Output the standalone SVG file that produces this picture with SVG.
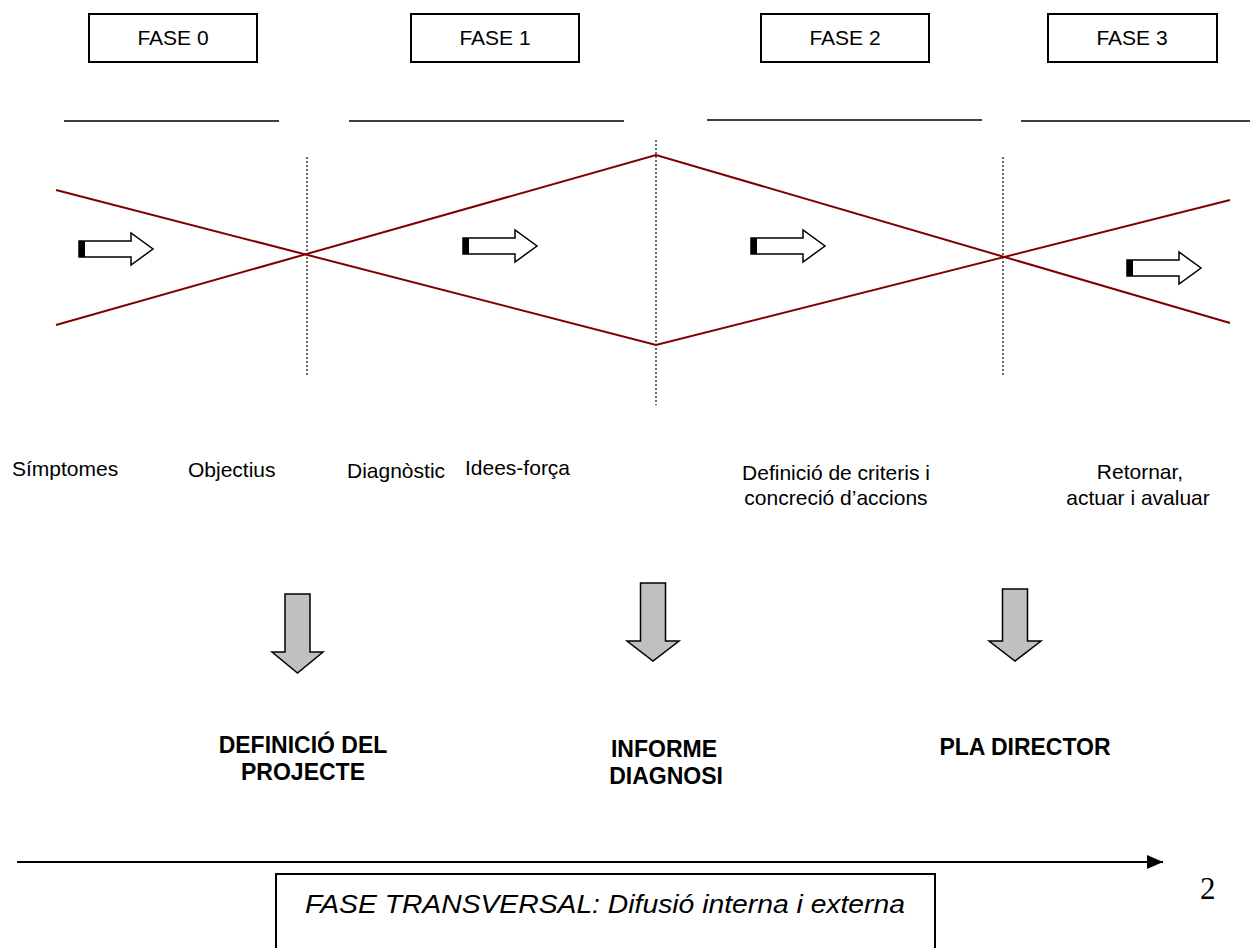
<svg xmlns="http://www.w3.org/2000/svg" width="1250" height="948" viewBox="0 0 1250 948">
  <style>
    .box { fill: #fff; stroke: #000; stroke-width: 2; }
    .t { font-family: "Liberation Sans", Arial, sans-serif; font-size: 21px; fill: #000; }
    .b { font-family: "Liberation Sans", Arial, sans-serif; font-size: 23px; font-weight: bold; fill: #000; }
    .it { font-family: "Liberation Sans", Arial, sans-serif; font-size: 25px; font-style: italic; fill: #000; }
    .rule { stroke: #000; stroke-width: 1.5; }
    .dot { stroke: #000; stroke-width: 1.2; stroke-dasharray: 2 2; }
    .red { stroke: #800000; stroke-width: 2; fill: none; }
    .hollow { fill: #fff; stroke: #000; stroke-width: 1.5; stroke-linejoin: miter; }
    .down { fill: #c0c0c0; stroke: #000; stroke-width: 1.5; }
  </style>
  <defs>
    <g id="hollowArrow">
      <path class="hollow" d="M0,-8 H52 V-16 L74,0 L52,16 V8 H0 Z"/>
      <rect x="0" y="-8" width="6" height="16" fill="#000"/>
    </g>
    <marker id="tip" viewBox="0 0 16 14" refX="16" refY="7" markerWidth="16" markerHeight="14" markerUnits="userSpaceOnUse" orient="auto">
      <path d="M0,0 L16,7 L0,14 Z" fill="#000"/>
    </marker>
  </defs>

  <rect width="1250" height="948" fill="#fff"/>

  <!-- phase headers -->
  <g id="fase0"><rect class="box" x="89" y="14" width="168" height="48"/><text class="t" x="173" y="45" text-anchor="middle">FASE 0</text></g>
  <g id="fase1"><rect class="box" x="411" y="14" width="168" height="48"/><text class="t" x="495" y="45" text-anchor="middle">FASE 1</text></g>
  <g id="fase2"><rect class="box" x="761" y="14" width="168" height="48"/><text class="t" x="845" y="45" text-anchor="middle">FASE 2</text></g>
  <g id="fase3"><rect class="box" x="1048" y="14" width="169" height="48"/><text class="t" x="1132" y="45" text-anchor="middle">FASE 3</text></g>

  <!-- rules under the headers -->
  <g id="rules">
    <line class="rule" x1="64" y1="121" x2="279" y2="121"/>
    <line class="rule" x1="349" y1="121" x2="624" y2="121"/>
    <line class="rule" x1="707" y1="120" x2="982" y2="120"/>
    <line class="rule" x1="1021" y1="121" x2="1250" y2="121"/>
  </g>

  <!-- phase boundaries -->
  <g id="boundaries">
    <line class="dot" x1="307" y1="157" x2="307" y2="375"/>
    <line class="dot" x1="656" y1="140" x2="656" y2="405"/>
    <line class="dot" x1="1003" y1="157" x2="1003" y2="375"/>
  </g>

  <!-- diverge / converge lines -->
  <g id="connectors">
    <polyline class="red" points="56,190 656,345 1230,200"/>
    <polyline class="red" points="56,325 656,155 1230,323"/>
    <line x1="17" y1="862" x2="1163" y2="862" stroke="#000" stroke-width="2" marker-end="url(#tip)"/>
  </g>

  <!-- flow arrows -->
  <g id="flow1"><use href="#hollowArrow" x="79" y="249"/></g>
  <g id="flow2"><use href="#hollowArrow" x="463" y="246"/></g>
  <g id="flow3"><use href="#hollowArrow" x="751" y="246"/></g>
  <g id="flow4"><use href="#hollowArrow" x="1127" y="268"/></g>

  <!-- stage labels -->
  <g id="labels">
    <text class="t" x="12" y="476">Símptomes</text>
    <text class="t" x="188" y="477">Objectius</text>
    <text class="t" x="347" y="478">Diagnòstic</text>
    <text class="t" x="465" y="475">Idees-força</text>
    <text class="t" x="836" y="480" text-anchor="middle">Definició de criteris i</text>
    <text class="t" x="836" y="505" text-anchor="middle">concreció d’accions</text>
    <text class="t" x="1140" y="479" text-anchor="middle">Retornar,</text>
    <text class="t" x="1138" y="505" text-anchor="middle">actuar i avaluar</text>
  </g>

  <!-- outputs -->
  <g id="out1">
    <path class="down" d="M285,594 H310 V652 H323 L297.5,673 L272,652 H285 Z"/>
    <text class="b" x="303" y="753" text-anchor="middle">DEFINICIÓ DEL</text>
    <text class="b" x="303" y="780" text-anchor="middle">PROJECTE</text>
  </g>
  <g id="out2">
    <path class="down" d="M640.5,583 H665.5 V641 H679 L653,661 L627,641 H640.5 Z"/>
    <text class="b" x="664" y="757" text-anchor="middle">INFORME</text>
    <text class="b" x="666" y="784" text-anchor="middle">DIAGNOSI</text>
  </g>
  <g id="out3">
    <path class="down" d="M1002.5,589 H1027.5 V641 H1041 L1015,661 L989,641 H1002.5 Z"/>
    <text class="b" x="1025" y="755" text-anchor="middle">PLA DIRECTOR</text>
  </g>

  <!-- transversal phase -->
  <g id="transversal">
    <rect class="box" x="276" y="874" width="659" height="90"/>
    <text class="it" x="305" y="913" textLength="600" lengthAdjust="spacingAndGlyphs">FASE TRANSVERSAL: Difusió interna i externa</text>
  </g>

  <text x="1200" y="899" font-family="Liberation Serif, 'Times New Roman', serif" font-size="31">2</text>
</svg>
